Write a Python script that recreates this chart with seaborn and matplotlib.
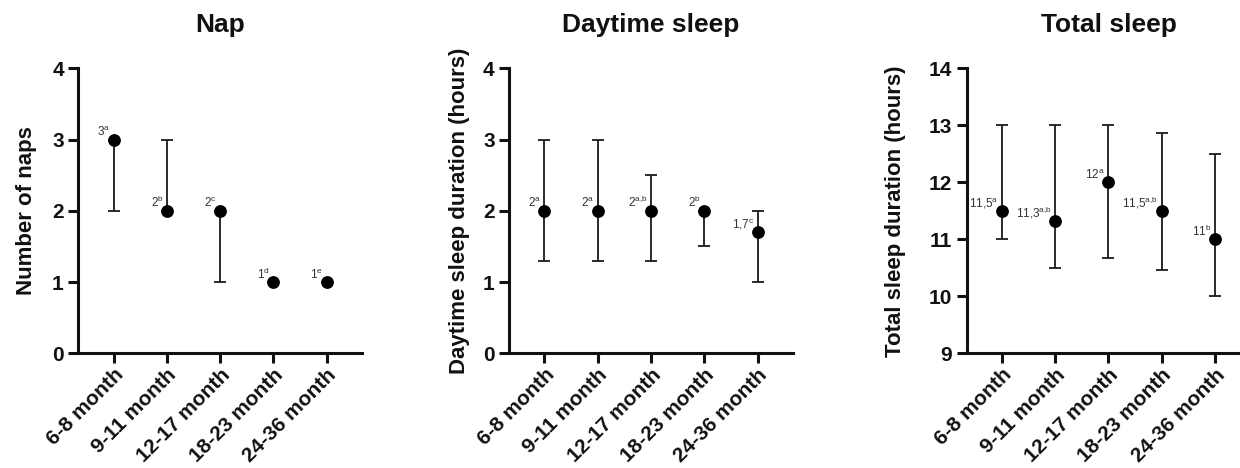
import numpy as np
import matplotlib
matplotlib.use("Agg")
import matplotlib.pyplot as plt
import seaborn as sns

# age groups shared by all three panels
ages = ["6-8 month", "9-11 month", "12-17 month", "18-23 month", "24-36 month"]

# Nap: median with lower / upper range
nap_median = [3, 2, 2, 1, 1]
nap_low = [2, 2, 1, 1, 1]
nap_high = [3, 3, 2, 1, 1]
nap_labels = ["3^{a}", "2^{b}", "2^{c}", "1^{d}", "1^{e}"]

# Daytime sleep (hours)
day_median = [2, 2, 2, 2, 1.7]
day_low = [1.3, 1.3, 1.3, 1.5, 1.0]
day_high = [3, 3, 2.5, 2, 2]
day_labels = ["2^{a}", "2^{a}", "2^{a{,}b}", "2^{b}", "1{,}7^{c}"]

# Total sleep (hours)
tot_median = [11.5, 11.33, 12, 11.5, 11]
tot_low = [11, 10.5, 10.67, 10.46, 10]
tot_high = [13, 13, 13, 12.87, 12.5]
tot_labels = ["11{,}5^{a}", "11{,}3^{a{,}b}", "12^{a}", "11{,}5^{a{,}b}", "11^{b}"]

sns.set_style("ticks")
plt.rcParams["font.family"] = ["Liberation Sans", "DejaVu Sans"]
plt.rcParams["mathtext.fontset"] = "custom"
plt.rcParams["mathtext.rm"] = "Liberation Sans"
plt.rcParams["mathtext.it"] = "Liberation Sans"

fig = plt.figure(figsize=(12.4, 4.68), dpi=100)

panels = [
    ("Nap", "Number of naps", nap_median, nap_low, nap_high, nap_labels, (0, 4), [0, 1, 2, 3, 4], 0.0632, -0.145),
    ("Daytime sleep", "Daytime sleep duration (hours)", day_median, day_low, day_high, day_labels, (0, 4), [0, 1, 2, 3, 4], 0.4107, -0.137),
    ("Total sleep", "Total sleep duration (hours)", tot_median, tot_low, tot_high, tot_labels, (9, 14), [9, 10, 11, 12, 13, 14], 0.7796, -0.215),
]

for title, ylabel, med, lo, hi, labs, ylim, yticks, left, lab_x in panels:
    ax = fig.add_axes([left, 0.245, 0.2287, 0.609])
    med = np.array(med)
    err = [med - np.array(lo), np.array(hi) - med]
    ax.errorbar(ages, med, yerr=err, fmt="none", ecolor="#1a1a1a",
                elinewidth=1.3, capsize=4.2, capthick=1.3, zorder=2)
    sns.scatterplot(x=ages, y=med, ax=ax, color="black", s=85,
                    edgecolor="black", linewidth=0, zorder=3, clip_on=False)
    for i, t in enumerate(labs):
        ax.annotate(r"$\mathregular{" + t + "}$", (i, med[i]), xytext=(-2.5, 2.5),
                    textcoords="offset points", ha="right", va="baseline",
                    fontsize=8.5, color="#333333", zorder=4)
    ax.set_xlim(-0.66, 4.66)
    ax.set_ylim(*ylim)
    ax.set_yticks(yticks)
    ax.set_title(title, fontsize=19, fontweight="bold", pad=26, color="#111111")
    ax.set_ylabel(ylabel, fontsize=16, fontweight="bold", color="#111111")
    ax.yaxis.set_label_coords(lab_x, 0.5)
    ax.set_xlabel("")
    sns.despine(ax=ax)
    for sp in ["left", "bottom"]:
        ax.spines[sp].set_linewidth(2.2)
        ax.spines[sp].set_color("#111111")
    ax.tick_params(axis="both", width=2.2, length=7, color="#111111",
                   labelsize=15, labelcolor="#111111")
    ax.tick_params(axis="x", pad=1.5)
    for lbl in ax.get_yticklabels() + ax.get_xticklabels():
        lbl.set_fontweight("bold")
    plt.setp(ax.get_xticklabels(), rotation=45, ha="right", rotation_mode="anchor")

fig.savefig("out.png", dpi=100)
